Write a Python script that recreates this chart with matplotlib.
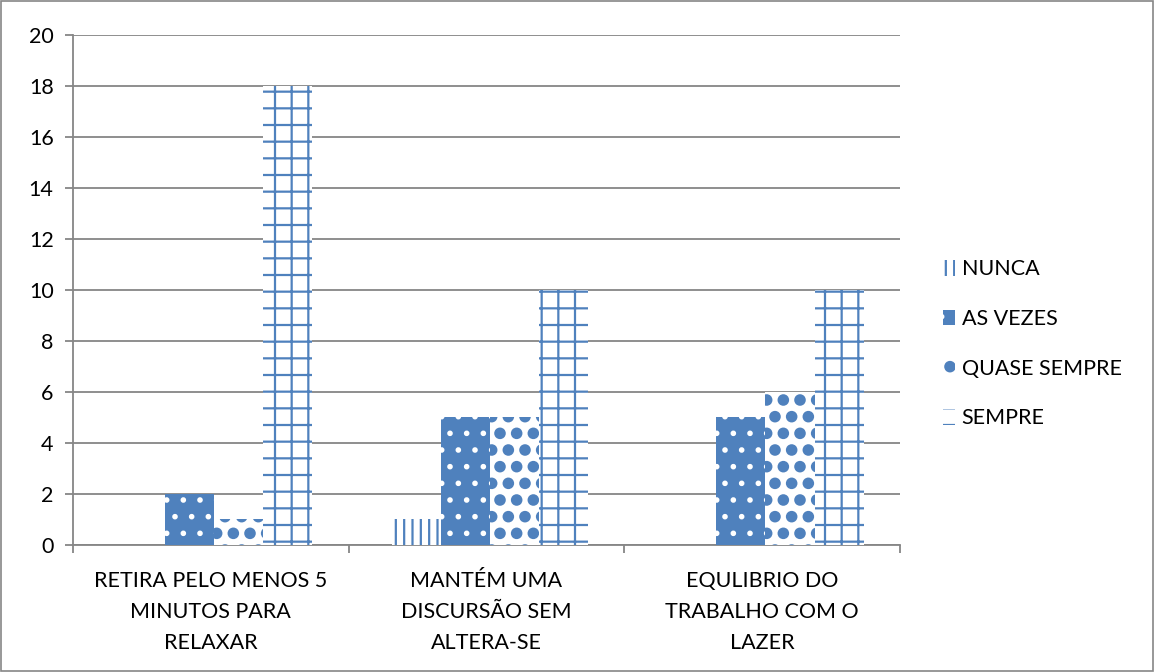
import numpy as np
import matplotlib
matplotlib.use("Agg")
import matplotlib.pyplot as plt
import matplotlib.hatch
from matplotlib.patches import Rectangle

plt.rcParams['font.family'] = ['Lato', 'DejaVu Sans']
plt.rcParams['hatch.linewidth'] = 1.6
# solid "O" dots so the QUASE SEMPRE pattern looks like the filled diamonds
matplotlib.hatch.LargeCircles.filled = True
matplotlib.hatch.LargeCircles.size = 0.28

# Data
categories = ["RETIRA PELO MENOS 5\nMINUTOS PARA\nRELAXAR",
              "MANTÉM UMA\nDISCURSÃO SEM\nALTERA-SE",
              "EQULIBRIO DO\nTRABALHO COM O\nLAZER"]
series_names = ["NUNCA", "AS VEZES", "QUASE SEMPRE", "SEMPRE"]
nunca = [0, 1, 0]
as_vezes = [2, 5, 5]
quase_sempre = [1, 5, 6]
sempre = [18, 10, 10]

blue = "#4F81BD"
grey = "#868686"
fs = 15.5

fig = plt.figure(figsize=(11.55, 6.72), dpi=100)
ax = fig.add_axes([0.0632, 0.189, 0.716, 0.759])

x = np.arange(len(categories))
w = 0.178
styles = [
    dict(facecolor="white", edgecolor=blue, hatch="||"),
    dict(facecolor=blue, edgecolor="white", hatch="."),
    dict(facecolor="white", edgecolor=blue, hatch="O"),
    dict(facecolor="white", edgecolor=blue, hatch="+"),
]
values = [nunca, as_vezes, quase_sempre, sempre]
for i, (name, vals, st) in enumerate(zip(series_names, values, styles)):
    ax.bar(x + (i - 1.5) * w + 0.012, vals, w, label=name, linewidth=0, zorder=3, **st)

ax.set_xlim(-0.5, 2.5)
ax.set_ylim(0, 20)
ax.set_yticks(range(0, 21, 2))
ax.yaxis.grid(True, color=grey, linewidth=1.3, zorder=0)
ax.set_axisbelow(True)

ax.set_xticks(x)
ax.set_xticklabels(categories, fontsize=fs, linespacing=1.68)
ax.set_xticks([-0.5, 0.5, 1.5, 2.5], minor=True)
ax.tick_params(axis='x', which='major', length=0, pad=19)
ax.tick_params(axis='x', which='minor', length=6, color=grey, width=1.3)
ax.tick_params(axis='y', length=6, color=grey, width=1.3, labelsize=fs, pad=8)

for s in ["top", "right"]:
    ax.spines[s].set_visible(False)
for s in ["left", "bottom"]:
    ax.spines[s].set_color(grey)
    ax.spines[s].set_linewidth(1.3)

fig.legend(loc="upper left", bbox_to_anchor=(0.8, 0.643), frameon=False,
           fontsize=fs, handlelength=0.55, handleheight=0.75, handletextpad=0.3,
           labelspacing=1.38)

fig.patches.append(Rectangle((0.001, 0.001), 0.997, 0.997, transform=fig.transFigure,
                             fill=False, edgecolor=grey, linewidth=1.2))

fig.savefig("out.png", dpi=100)
